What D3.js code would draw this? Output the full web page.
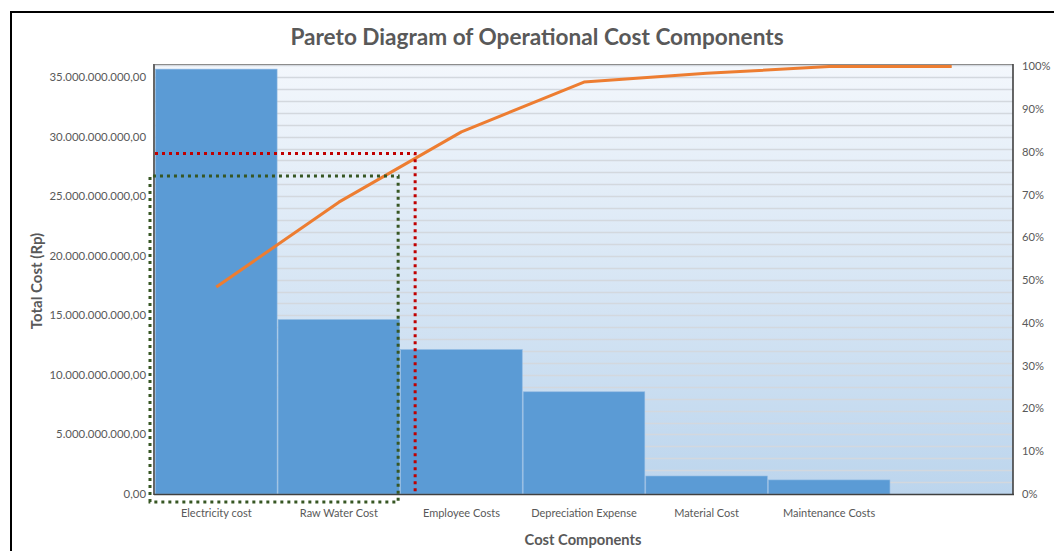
<!DOCTYPE html>
<html>
<head>
<meta charset="utf-8">
<script src="https://cdn.jsdelivr.net/npm/d3@7"></script>
<style>
  html, body { margin: 0; padding: 0; background: #fff; }
  svg { display: block; }
  text { font-family: Lato, "Open Sans", sans-serif; }
</style>
</head>
<body>
<svg id="chart" width="1054" height="551"></svg>
<script>
// ---- data ----
const categories = ["Electricity cost", "Raw Water Cost", "Employee Costs", "Depreciation Expense", "Material Cost", "Maintenance Costs", ""];
const costValues = [35.67e9, 14.64e9, 12.12e9, 8.58e9, 1.51e9, 1.18e9, 0];
const leftTicks = [0, 5e9, 10e9, 15e9, 20e9, 25e9, 30e9, 35e9];
const rightTicks = [0, 0.1, 0.2, 0.3, 0.4, 0.5, 0.6, 0.7, 0.8, 0.9, 1.0];
const leftMax = 36.1e9;
const paretoThreshold = 0.8;
const titleText = "Pareto Diagram of Operational Cost Components";
const xTitle = "Cost Components";
const yTitle = "Total Cost (Rp)";

// ---- derived ----
const total = d3.sum(costValues);
const cumulative = d3.cumsum(costValues).map(v => v / total);
const data = categories.map((c, i) => ({ cat: c, key: "k" + i, value: costValues[i], cum: cumulative[i] }));

const svg = d3.select("#chart");
const W = 1054, H = 551;
const m = { left: 155, right: 1013, top: 64, bottom: 494 };
const textColor = "#595959";

const locale = d3.formatLocale({ decimal: ",", thousands: ".", grouping: [3], currency: ["", ""] });
const fmt = locale.format(",.2f");

const x = d3.scaleBand().domain(data.map(d => d.key)).range([m.left, m.right]).paddingInner(0).paddingOuter(0);
const y = d3.scaleLinear().domain([0, leftMax]).range([m.bottom, m.top]);
const yR = d3.scaleLinear().domain([0, 1]).range([m.bottom, 66.5]);

// outer frame
svg.append("rect").attr("x", 11).attr("y", 12).attr("width", W + 20).attr("height", H + 20)
  .attr("fill", "#fff").attr("stroke", "#000").attr("stroke-width", 2);

// gradient background
const defs = svg.append("defs");
const grad = defs.append("linearGradient").attr("id", "bg").attr("x1", 0).attr("y1", 0).attr("x2", 0).attr("y2", 1);
grad.append("stop").attr("offset", "0%").attr("stop-color", "#f3f7fc");
grad.append("stop").attr("offset", "100%").attr("stop-color", "#bcd5ed");
svg.append("rect").attr("x", m.left).attr("y", m.top).attr("width", m.right - m.left).attr("height", m.bottom - m.top)
  .attr("fill", "url(#bg)");

// gridlines every 1e9
const gridVals = d3.range(1e9, leftMax, 1e9);
svg.append("g").selectAll("line").data(gridVals).join("line")
  .attr("x1", m.left).attr("x2", m.right)
  .attr("y1", d => Math.round(y(d)) + 0.5).attr("y2", d => Math.round(y(d)) + 0.5)
  .attr("stroke", "#d3d8de").attr("stroke-width", 1.3);

// bars
svg.append("g").selectAll("rect").data(data.filter(d => d.value > 0)).join("rect")
  .attr("x", d => x(d.key) + 0.5)
  .attr("width", x.bandwidth() - 1)
  .attr("y", d => y(d.value))
  .attr("height", d => m.bottom - y(d.value))
  .attr("fill", "#5b9bd5")
  .attr("stroke", "#8db8e2").attr("stroke-width", 0.6);

// plot borders
svg.append("line").attr("x1", m.left).attr("x2", m.right).attr("y1", m.top + 0.5).attr("y2", m.top + 0.5)
  .attr("stroke", "#8c8c8c").attr("stroke-width", 1.2);
svg.append("line").attr("x1", m.left - 1).attr("x2", m.left - 1).attr("y1", m.top).attr("y2", m.bottom + 1)
  .attr("stroke", "#404040").attr("stroke-width", 1.6);
svg.append("line").attr("x1", m.right).attr("x2", m.right).attr("y1", m.top).attr("y2", m.bottom + 1)
  .attr("stroke", "#404040").attr("stroke-width", 1.6);
svg.append("line").attr("x1", m.left - 1).attr("x2", m.right + 1).attr("y1", m.bottom + 0.5).attr("y2", m.bottom + 0.5)
  .attr("stroke", "#404040").attr("stroke-width", 1.6);

// cumulative line
const line = d3.line().x(d => x(d.key) + x.bandwidth() / 2).y(d => yR(d.cum));
svg.append("path").datum(data).attr("d", line)
  .attr("fill", "none").attr("stroke", "#ed7d31").attr("stroke-width", 3).attr("stroke-linejoin", "round");

// left axis labels
const gL = svg.append("g");
gL.selectAll("text").data(leftTicks).join("text")
  .attr("x", 146).attr("y", d => y(d)).attr("dy", "0.35em")
  .attr("text-anchor", "end").attr("font-size", 11.4).attr("fill", textColor)
  .text(d => fmt(d));

// right axis labels
const gR = svg.append("g");
gR.selectAll("text").data(rightTicks).join("text")
  .attr("x", 1022).attr("y", d => yR(d)).attr("dy", "0.35em")
  .attr("text-anchor", "start").attr("font-size", 11.2).attr("fill", textColor)
  .text(d => Math.round(d * 100) + "%");

// x labels
svg.append("g").selectAll("text").data(data.filter(d => d.cat !== "")).join("text")
  .attr("x", d => x(d.key) + x.bandwidth() / 2).attr("y", 513).attr("dy", "0.35em")
  .attr("text-anchor", "middle").attr("font-size", 11).attr("fill", textColor)
  .text(d => d.cat);

// titles
svg.append("text").attr("x", 537).attr("y", 37).attr("dy", "0.35em").attr("text-anchor", "middle")
  .attr("font-size", 22.6).attr("font-weight", "bold").attr("fill", textColor).text(titleText);
svg.append("text").attr("x", (m.left + m.right) / 2 - 1).attr("y", 540).attr("dy", "0.35em").attr("text-anchor", "middle")
  .attr("font-size", 14.7).attr("font-weight", "bold").attr("fill", textColor).text(xTitle);
svg.append("text").attr("transform", `translate(37,${(m.top + m.bottom) / 2 + 2}) rotate(-90)`).attr("dy", "0.35em")
  .attr("text-anchor", "middle").attr("font-size", 15).attr("font-weight", "bold").attr("fill", textColor).text(yTitle);

// annotations: red 80% box
const k = data.map(d => d.key);
const redX = x(k[2]) + 15;
const redY = yR(paretoThreshold) + 1.5;
svg.append("path")
  .attr("d", `M${m.left},${redY} H${redX} V${m.bottom}`)
  .attr("fill", "none").attr("stroke", "#c00000").attr("stroke-width", 3).attr("stroke-dasharray", "3,4");

// green dotted box around vital few
const gx0 = m.left - 5, gx1 = x(k[1]) + x.bandwidth() - 2;
const gy0 = y(26.7e9), gy1 = m.bottom + 8;
svg.append("path")
  .attr("d", `M${gx0},${gy1} V${gy0} H${gx1} V${gy1} Z`)
  .attr("fill", "none").attr("stroke", "#375623").attr("stroke-width", 3).attr("stroke-dasharray", "3,4");
</script>
</body>
</html>
